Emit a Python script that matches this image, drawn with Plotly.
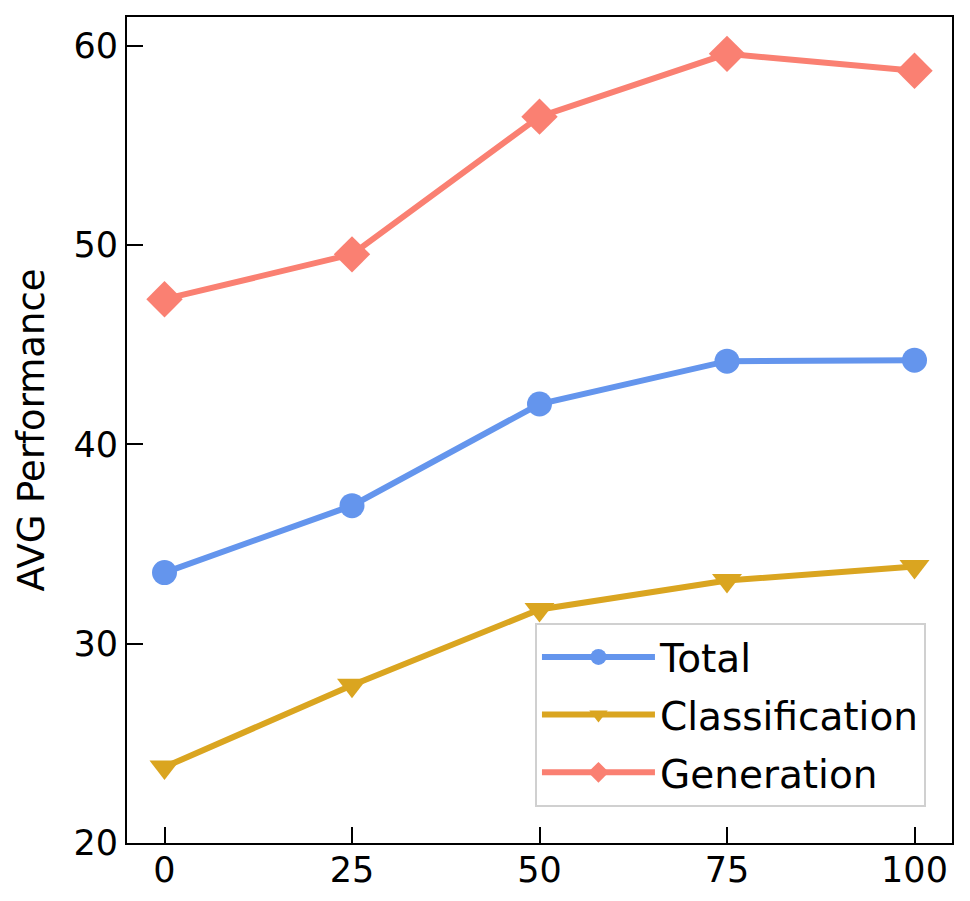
import plotly.graph_objects as go

x_vals = [0, 25, 50, 75, 100]
total = [33.57, 36.93, 42.03, 44.18, 44.23]
classification = [23.81, 27.92, 31.72, 33.17, 33.87]
generation = [47.29, 49.54, 56.45, 59.6, 58.75]
x_ticks = [0, 25, 50, 75, 100]
y_ticks = [20, 30, 40, 50, 60]

FONT = "DejaVu Sans"
fig = go.Figure()
series = [
    ("Total", total, "#6495ED", "circle", 25),
    ("Classification", classification, "#DAA520", "triangle-down", 26),
    ("Generation", generation, "#FA8072", "diamond", 28),
]
for name, ys, color, sym, sz in series:
    fig.add_trace(go.Scatter(
        x=x_vals, y=ys, name=name, mode="lines+markers",
        legendgroup=name,
        line=dict(color=color, width=6),
        marker=dict(symbol=sym, size=sz, color=color),
    ))

axis_common = dict(
    showline=True, linecolor="black", linewidth=2, mirror=True,
    ticks="inside", ticklen=16, tickwidth=1.5, tickcolor="black",
    showgrid=False, zeroline=False,
    tickfont=dict(family=FONT, size=35, color="black"),
)
fig.update_xaxes(range=[-5, 105], tickvals=x_ticks, ticklabelstandoff=-5, **axis_common)
fig.update_yaxes(range=[20, 61.45], tickvals=y_ticks,
                 title=dict(text="AVG Performance", font=dict(family=FONT, size=37, color="black"), standoff=18),
                 **axis_common)

fig.update_layout(
    width=962, height=893,
    margin=dict(l=119, r=18, t=7, b=58),
    plot_bgcolor="white", paper_bgcolor="white",
    font=dict(family=FONT, color="black"),
    legend=dict(
        x=0.4945, y=0.0435, xanchor="left", yanchor="bottom",
        bordercolor="#d0d0d0", borderwidth=2, bgcolor="white",
        font=dict(family=FONT, size=39, color="black"),
        itemwidth=113, tracegroupgap=4,
    ),
)
fig.write_html("out.html")
